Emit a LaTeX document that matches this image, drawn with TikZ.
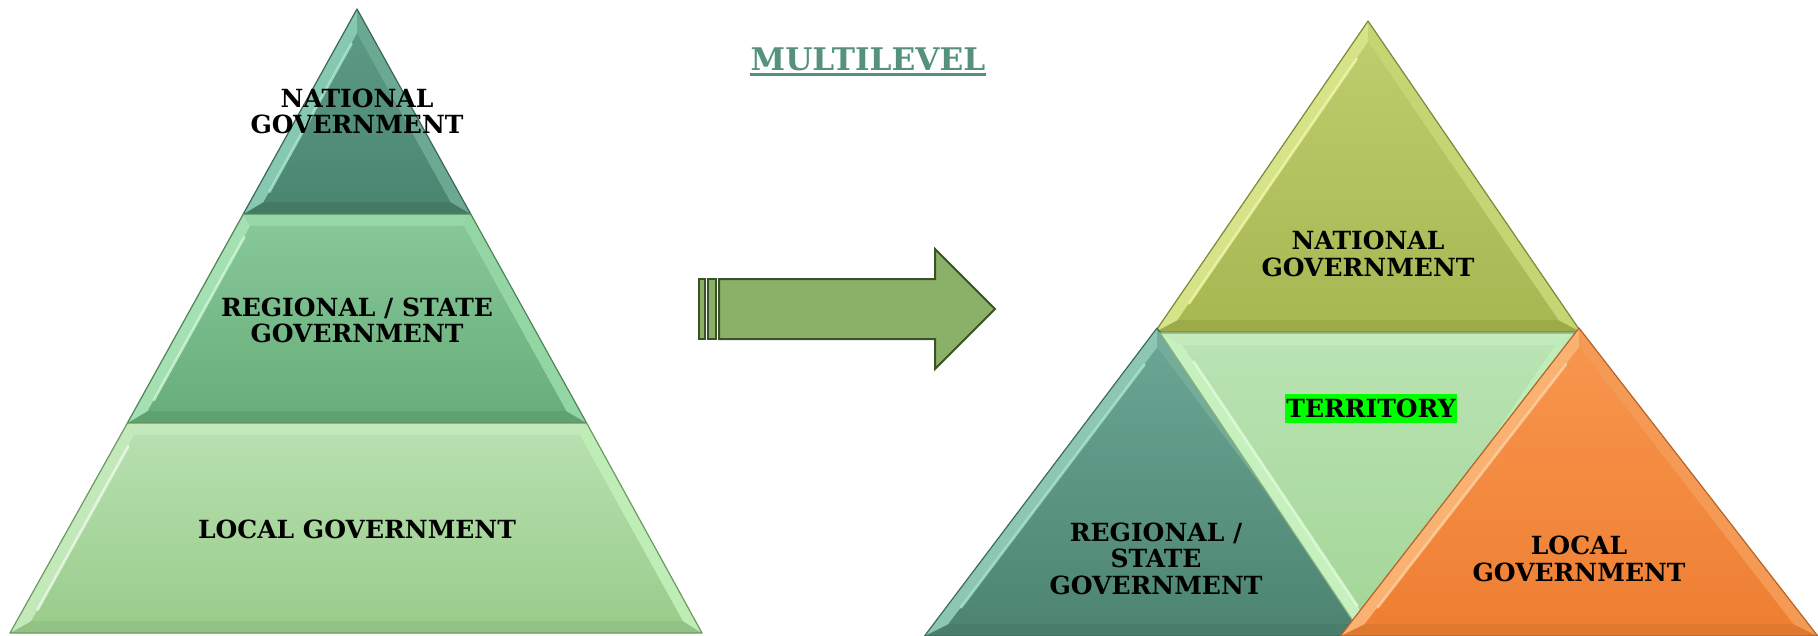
\documentclass[tikz,border=0pt]{standalone}
\usepackage{fontspec}
\setmainfont{DejaVu Serif}
\usetikzlibrary{calc}
% colour sets: T top of gradient, M bottom of gradient, S top strip, L left strip, R right strip, B bottom strip, H highlight, O outline
\definecolor{LTT}{HTML}{5C9A85}\definecolor{LTM}{HTML}{4B8671}\definecolor{LTS}{HTML}{6FAE98}
\definecolor{LTL}{HTML}{86C8B0}\definecolor{LTR}{HTML}{6BA993}\definecolor{LTB}{HTML}{437A66}
\definecolor{LTH}{HTML}{B8F2DE}\definecolor{LTO}{HTML}{3A6857}
\definecolor{LMT}{HTML}{87C798}\definecolor{LMM}{HTML}{68AE7B}\definecolor{LMS}{HTML}{98D7A8}
\definecolor{LML}{HTML}{A4E0B2}\definecolor{LMR}{HTML}{93D6A3}\definecolor{LMB}{HTML}{5FA272}
\definecolor{LMH}{HTML}{DAFFE4}\definecolor{LMO}{HTML}{4D8559}
\definecolor{LBT}{HTML}{B6E0AF}\definecolor{LBM}{HTML}{9BCD8D}\definecolor{LBS}{HTML}{C2E8BB}
\definecolor{LBL}{HTML}{C3E9BB}\definecolor{LBR}{HTML}{BFEDB6}\definecolor{LBB}{HTML}{92C385}
\definecolor{LBH}{HTML}{F6FFF2}\definecolor{LBO}{HTML}{6C9962}
\definecolor{NAT}{HTML}{BECD6D}\definecolor{NAM}{HTML}{A7B752}\definecolor{NAS}{HTML}{C8D67A}
\definecolor{NAL}{HTML}{D6E388}\definecolor{NAR}{HTML}{C6D573}\definecolor{NAB}{HTML}{9BAB48}
\definecolor{NAH}{HTML}{F8FFB4}\definecolor{NAO}{HTML}{7C8939}
\definecolor{RGT}{HTML}{6AA593}\definecolor{RGM}{HTML}{4D8572}\definecolor{RGS}{HTML}{7AB3A1}
\definecolor{RGL}{HTML}{8DC6B3}\definecolor{RGR}{HTML}{73AD9A}\definecolor{RGB}{HTML}{497E6C}
\definecolor{RGH}{HTML}{B4EEDB}\definecolor{RGO}{HTML}{3D6C5C}
\definecolor{TET}{HTML}{B9E3B3}\definecolor{TEM}{HTML}{A4D698}\definecolor{TES}{HTML}{C3EBBC}
\definecolor{TEL}{HTML}{C6F1BE}\definecolor{TER}{HTML}{C0ECB8}\definecolor{TEB}{HTML}{9ECD93}
\definecolor{TEH}{HTML}{E8FFE2}\definecolor{TEO}{HTML}{84AF7C}
\definecolor{ORT}{HTML}{F8954D}\definecolor{ORM}{HTML}{EE7F33}\definecolor{ORS}{HTML}{F9A262}
\definecolor{ORL}{HTML}{FAB272}\definecolor{ORR}{HTML}{F59A55}\definecolor{ORB}{HTML}{DF792F}
\definecolor{ORH}{HTML}{FFDAAE}\definecolor{ORO}{HTML}{B4632A}
\definecolor{titlecol}{HTML}{56917D}
\definecolor{arrfill}{HTML}{8BB168}
\definecolor{arrline}{HTML}{3A5226}
\definecolor{hl}{HTML}{00FF00}
% bevelled quadrilateral: outer TL TR BR BL, inner TL TR BR BL, colour prefix
\newcommand\bevquad[9]{%
  \fill[#9B] (#1)--(#2)--(#3)--(#4)--cycle;
  \fill[#9S] (#1)--(#2)--(#6)--(#5)--cycle;
  \fill[#9L] (#1)--(#4)--(#8)--(#5)--cycle;
  \fill[#9R] (#2)--(#3)--(#7)--(#6)--cycle;
  \shade[top color=#9T,bottom color=#9M] (#5)--(#6)--(#7)--(#8)--cycle;
  \draw[#9H,line width=1.3pt,line cap=round,opacity=0.7] ($(#5)!0.06!(#8)$)--($(#5)!0.94!(#8)$);
  \draw[#9O,line width=0.6pt,line join=round] (#1)--(#2)--(#3)--(#4)--cycle;
}
\tikzset{
  txt/.style={font=\fontsize{12.5pt}{13.25pt}\selectfont\bfseries, align=center, inner sep=0pt, text=black},
  ttlsty/.style={font=\fontsize{15.6pt}{16pt}\selectfont\bfseries, inner sep=0pt, text=titlecol},
  arrsty/.style={fill=arrfill, draw=arrline, line width=1pt, line join=miter}
}
\begin{document}
\begin{tikzpicture}[x=0.5pt,y=-0.5pt]
\useasboundingbox (0,0) rectangle (1818,636);
% ---------- left pyramid ----------
\bevquad{357,9}{357,9}{470.7,214}{243.3,214}{357,33.7}{357,33.7}{450.3,202}{263.7,202}{LT}
\bevquad{243.3,214}{470.7,214}{586.6,423}{127.4,423}{250.4,226}{463.6,226}{566.2,411}{147.8,411}{LM}
\bevquad{127.4,423}{586.6,423}{702,633}{10,633}{134.5,435}{579.5,435}{682.7,621}{31.3,621}{LB}
\node[txt] (lnat) at (357,111.3) {NATIONAL\\GOVERNMENT};
\node[txt] (lreg) at (357,320.5) {REGIONAL / STATE\\GOVERNMENT};
\node[txt] (lloc) at (357,529.5) {LOCAL GOVERNMENT};
% ---------- title ----------
\node[ttlsty] (ttl) at (868,59.5) {MULTILEVEL};
\draw[titlecol,line width=1.5pt] ([yshift=-1.8pt]ttl.base west) -- ([yshift=-1.8pt]ttl.base east);
% ---------- arrow ----------
\draw[arrsty] (699,279) rectangle (705,339);
\draw[arrsty] (708,279) rectangle (716,339);
\draw[arrsty] (719,279)--(935,279)--(935,249)--(995,309)--(935,369)--(935,339)--(719,339)--cycle;
% ---------- right triangle ----------
\bevquad{1368,21}{1368,21}{1581,332}{1155,332}{1368,42.2}{1368,42.2}{1558.3,320}{1177.7,320}{NA}
\bevquad{1157,328}{1157,328}{1389.5,636}{924.5,636}{1157,347.9}{1157,347.9}{1365.5,624}{948.5,624}{RG}
\bevquad{1160,333}{1577,333}{1368.5,644.2}{1368.5,644.2}{1182.5,345}{1554.5,345}{1368.5,622.6}{1368.5,622.6}{TE}
\bevquad{1579,328}{1579,328}{1817.7,636}{1340.3,636}{1579,347.6}{1579,347.6}{1793.2,624}{1364.8,624}{OR}
\node[txt] (rnat) at (1368,254) {NATIONAL\\GOVERNMENT};
\node[txt] (rreg) at (1156,558.5) {REGIONAL /\\STATE\\GOVERNMENT};
\node[txt] (rloc) at (1579,559) {LOCAL\\GOVERNMENT};
\node[txt, fill=hl, minimum width=86pt, minimum height=14.5pt] (terr) at (1371,408.5) {TERRITORY};
\end{tikzpicture}
\end{document}
